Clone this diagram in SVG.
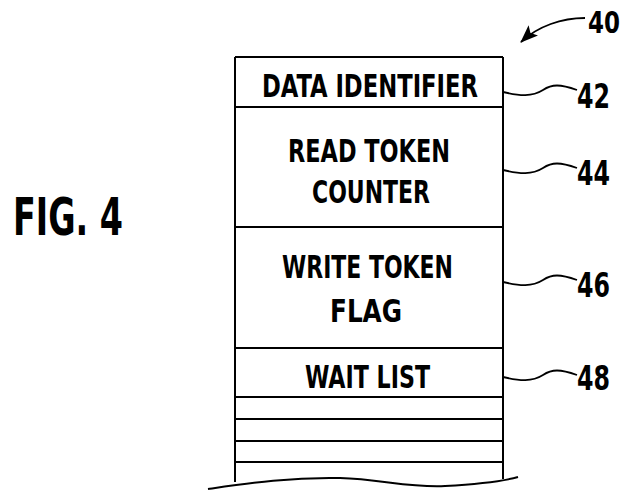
<svg xmlns="http://www.w3.org/2000/svg" width="626" height="491" viewBox="0 0 626 491">
<style>
.ln{fill:none;stroke:#000;stroke-width:2}
.ld{fill:none;stroke:#000;stroke-width:1.8}
.t{font-family:"Liberation Sans Narrow","DejaVu Sans Condensed","Liberation Sans",sans-serif;font-weight:bold;fill:#000}
.f{font-size:32px}
.n{font-size:33px}
</style>
<defs>
<marker id="ah" viewBox="0 0 18 14" refX="17" refY="7" markerWidth="18" markerHeight="14" markerUnits="userSpaceOnUse" orient="auto">
<path d="M0 0 L18 7 L0 14 L4 7 Z" fill="#000"/>
</marker>
</defs>
<rect width="626" height="491" fill="#fff"/>
<text class="t" x="13" y="235" font-size="51" textLength="110" lengthAdjust="spacingAndGlyphs">FIG. 4</text>
<g id="structure">
<path class="ln" d="M235 57 H503 M235 57 V482 M503 57 V479"/>
<path class="ln" d="M208 489 C250 483 290 477 340 478 C380 479 410 488 445 486 C480 484 500 482 518 477"/>
</g>
<g id="field42">
<path class="ln" d="M235 107 H503"/>
<text class="t f" x="262" y="97" textLength="216" lengthAdjust="spacingAndGlyphs">DATA IDENTIFIER</text>
</g>
<g id="field44">
<path class="ln" d="M235 227 H503"/>
<text class="t f" x="288" y="162" textLength="162" lengthAdjust="spacingAndGlyphs">READ TOKEN</text>
<text class="t f" x="312" y="203" textLength="118" lengthAdjust="spacingAndGlyphs">COUNTER</text>
</g>
<g id="field46">
<path class="ln" d="M235 348 H503"/>
<text class="t f" x="282" y="278" textLength="171" lengthAdjust="spacingAndGlyphs">WRITE TOKEN</text>
<text class="t f" x="330" y="322" textLength="72" lengthAdjust="spacingAndGlyphs">FLAG</text>
</g>
<g id="field48">
<path class="ln" d="M235 397 H503"/>
<text class="t f" x="305" y="388" textLength="125" lengthAdjust="spacingAndGlyphs">WAIT LIST</text>
</g>
<g id="slots">
<path class="ln" d="M235 419 H503 M235 441 H503 M235 462 H503"/>
</g>
<g id="labels">
<text class="t" x="588" y="33" font-size="31" textLength="32" lengthAdjust="spacingAndGlyphs">40</text>
<text class="t n" x="577" y="108" textLength="33" lengthAdjust="spacingAndGlyphs">42</text>
<text class="t n" x="577" y="185" textLength="33" lengthAdjust="spacingAndGlyphs">44</text>
<text class="t n" x="577" y="297" textLength="33" lengthAdjust="spacingAndGlyphs">46</text>
<text class="t n" x="577" y="390" textLength="33" lengthAdjust="spacingAndGlyphs">48</text>
</g>
<g id="connectors">
<path class="ld" d="M585 18 C562 18 538 26 521 42" marker-end="url(#ah)"/>
<path class="ld" d="M503 92 C520 96 532 97 543 90 C552 84 560 84 577 90"/>
<path class="ld" d="M503 170 C520 174 532 175 543 168 C552 162 560 162 577 168"/>
<path class="ld" d="M503 282 C520 286 532 287 543 280 C552 274 560 274 577 280"/>
<path class="ld" d="M503 377 C520 381 532 382 543 375 C552 369 560 369 577 375"/>
</g>
</svg>
